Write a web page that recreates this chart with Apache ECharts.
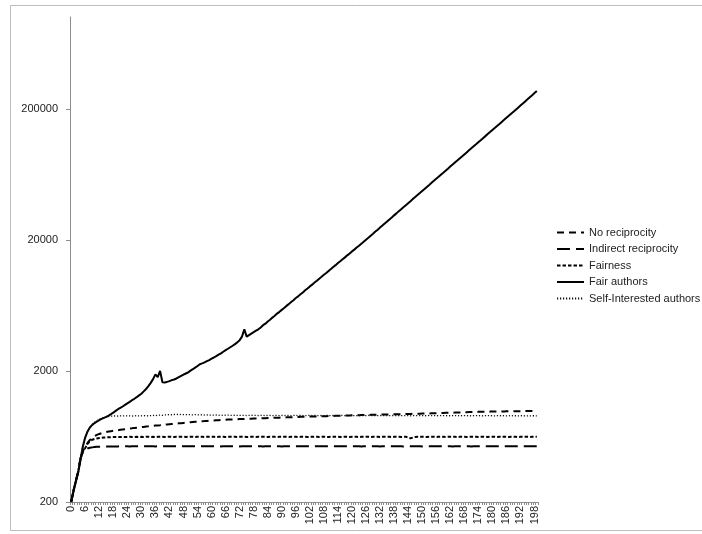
<!DOCTYPE html>
<html>
<head>
<meta charset="utf-8">
<script src="https://cdn.jsdelivr.net/npm/echarts@6/dist/echarts.min.js"></script>
<style>
  html, body { margin: 0; padding: 0; background: #fff; }
  #chart { width: 702px; height: 534px; }
</style>
</head>
<body>
<div id="chart"></div>
<script>
// x categories 0..199, labels every 6th
const categories = Array.from({ length: 200 }, (_, i) => String(i));
const yTicks = [200, 2000, 20000, 200000];

const noReciprocity = [
  200,245,290,340,430,490,525,565,595,618,636,650,661,670,677,683,689,694,698,702,
  706,710,714,718,722,726,730,735,738,741,745,748,752,755,759,762,765,768,771,775,
  778,781,784,787,790,793,796,799,802,805,808,811,814,817,820,823,826,828,831,834,
  836,838,840,842,844,846,848,850,852,853,855,856,858,859,860,862,863,864,866,867,
  868,870,871,872,874,875,876,878,879,880,882,883,884,885,887,888,889,890,892,893,
  894,895,896,897,898,899,900,901,902,903,905,906,907,908,909,910,911,912,913,914,
  916,917,918,919,920,921,922,923,924,925,926,927,928,929,929,930,931,932,933,934,
  935,936,937,938,939,940,941,942,943,944,945,946,947,948,949,950,951,952,954,955,
  957,958,959,960,962,963,964,966,967,968,970,971,972,973,974,975,976,977,977,978,
  978,979,980,981,981,982,983,984,984,985,985,986,986,987,987,988,988,989,989,990
];

const indirectReciprocity = [
  200,245,290,340,430,480,500,512,518,522,525,527,528,529,530,530,531,531,530,531,
  531,532,531,532,532,531,532,533,532,532,531,532,532,533,532,532,531,532,533,532,
  532,533,532,532,533,532,531,532,533,532,532,533,532,532,531,532,533,532,532,533,
  532,532,533,532,531,532,533,532,532,533,532,532,531,532,533,532,532,533,532,532,
  533,532,531,532,533,532,532,533,532,532,531,532,533,532,532,533,532,532,533,532,
  532,533,532,531,532,533,532,532,533,532,532,531,532,533,532,532,533,532,532,533,
  532,532,533,532,531,532,533,532,532,533,532,532,531,532,533,532,532,533,532,532,
  533,532,531,532,533,532,532,533,532,532,531,532,533,532,532,533,532,532,533,532,
  532,533,532,531,532,533,532,532,533,532,532,531,532,533,532,532,533,532,532,533,
  532,532,533,532,531,532,533,532,532,533,532,532,531,532,533,532,532,533,532,532
];

const fairness = [
  200,245,290,340,430,485,515,555,583,597,605,611,615,618,620,622,623,624,625,625,
  626,625,627,626,627,628,627,626,628,627,628,627,628,629,627,628,627,628,629,628,
  627,628,629,628,627,628,629,628,628,627,628,629,628,627,628,629,628,627,628,628,
  629,628,627,628,629,628,627,628,629,628,628,627,628,629,628,627,628,629,628,627,
  628,628,629,628,627,628,629,628,627,628,629,628,628,627,628,629,628,627,628,629,
  628,627,628,628,629,628,627,628,629,628,627,628,629,628,628,627,628,629,628,627,
  628,629,628,627,628,628,629,628,627,628,629,628,627,628,629,628,628,627,628,629,
  628,627,628,629,620,613,620,627,628,629,628,628,627,628,629,628,627,628,629,628,
  627,628,628,629,628,627,628,629,628,627,628,629,628,628,627,628,629,628,627,628,
  629,628,627,628,628,629,628,627,628,629,628,627,628,629,628,628,627,628,629,628
];

const fairAuthors = [
  200,240,285,335,420,530,620,690,740,775,800,822,842,860,876,892,912,935,960,990,
  1020,1045,1070,1100,1130,1160,1195,1225,1260,1300,1340,1395,1455,1530,1620,1730,1880,1790,2000,1640,
  1630,1650,1670,1700,1720,1750,1790,1830,1870,1910,1950,2010,2060,2120,2180,2250,2280,2320,2370,2420,
  2480,2530,2590,2660,2720,2800,2880,2950,3030,3110,3200,3300,3430,3650,4150,3650,3750,3850,3950,4050,
  4150,4290,4460,4580,4760,4910,5100,5260,5470,5640,5840,6030,6260,6460,6710,6920,7190,7400,7680,7930,
  8230,8500,8820,9090,9430,9740,10100,10440,10820,11160,11570,11960,12400,12810,13280,13730,14200,14680,15210,15730,
  16300,16820,17430,18020,18670,19310,20010,20720,21490,22250,23080,23890,24780,25660,26620,27560,28590,29600,30700,31790,
  32970,34150,35410,36680,38030,39390,40840,42310,43860,45440,47110,48800,50590,52410,54340,56290,58360,60460,62670,64930,
  67310,69730,72290,74890,77640,80440,83380,86390,89550,92780,96170,99650,103290,107020,110930,114940,119130,123440,127950,132580,
  137410,142390,147580,152920,158500,164240,170230,176390,182820,189440,196350,203590,211110,218890,227110,235490,244210,253190,262710,272390
];

const selfInterested = [
  200,248,296,352,440,550,625,690,740,780,810,835,855,870,882,892,898,902,905,907,
  905,908,906,910,907,909,905,908,911,907,909,912,908,910,913,915,912,918,920,916,
  922,925,928,926,930,932,928,931,929,927,930,926,924,928,925,922,926,920,923,919,
  921,918,922,917,920,916,919,921,917,915,918,916,914,917,915,913,916,918,914,916,
  913,917,915,912,916,914,911,915,917,913,915,912,916,914,911,914,916,912,915,913,
  911,914,916,912,915,913,910,914,912,915,913,911,914,912,910,913,915,911,914,912,
  910,913,911,914,912,910,913,915,911,913,910,912,914,911,913,910,912,914,911,913,
  910,912,914,911,913,909,912,914,910,913,911,909,912,914,910,912,909,911,913,910,
  912,909,911,913,910,912,908,911,913,909,911,908,910,912,909,911,908,910,912,909,
  911,908,910,912,909,910,907,909,911,908,910,907,909,911,908,909,907,909,910,908
];

const seriesNames = ['No reciprocity', 'Indirect reciprocity', 'Fairness', 'Fair authors', 'Self-Interested authors'];

const chart = echarts.init(document.getElementById('chart'));

const mkLine = (name, data, width, type, color) => ({
  name,
  type: 'line',
  data,
  symbol: 'none',
  smooth: false,
  lineStyle: { color, width, type },
  itemStyle: { color },
});

// snap a log tick value to the nearest wanted label
const tickLabel = v => {
  const hit = yTicks.find(t => Math.abs(Math.log10(t) - Math.log10(v)) < 0.05);
  return hit ? String(hit) : String(Math.round(v));
};

chart.setOption({
  animation: false,
  textStyle: { fontFamily: 'Liberation Sans, Arial, sans-serif' },
  graphic: [{
    type: 'rect',
    shape: { x: 10.5, y: 5.5, width: 700, height: 525 },
    style: { fill: 'none', stroke: '#bdbdbd', lineWidth: 1 },
    silent: true,
  }],
  legend: {
    orient: 'vertical',
    left: 551,
    top: 222,
    itemWidth: 27,
    itemHeight: 12,
    itemGap: 5.5,
    data: seriesNames,
    itemStyle: { opacity: 0 },
    textStyle: { fontSize: 11, color: '#222', fontFamily: 'Liberation Sans, Arial, sans-serif' },
  },
  grid: { left: 70, right: 164, top: 17, bottom: 32, containLabel: false },
  xAxis: {
    type: 'category',
    data: categories,
    boundaryGap: true,
    axisLine: { lineStyle: { color: '#8c8c8c', width: 1 } },
    axisTick: { show: true, interval: 0, length: 3, lineStyle: { color: '#8c8c8c' } },
    axisLabel: { interval: 5, rotate: 90, fontSize: 11, color: '#222', margin: 4 },
    splitLine: { show: false },
  },
  yAxis: {
    type: 'log',
    logBase: 10,
    min: 200,
    max: 1000000,
    interval: 1,
    axisLine: { show: true, lineStyle: { color: '#8c8c8c', width: 1 } },
    axisTick: { show: true, length: 4, lineStyle: { color: '#8c8c8c' } },
    axisLabel: {
      fontSize: 11,
      color: '#222',
      margin: 12,
      showMaxLabel: false,
      formatter: tickLabel,
    },
    splitLine: { show: false },
    minorTick: { show: false },
  },
  series: [
    mkLine(seriesNames[0], noReciprocity, 2, [7, 5], '#000'),
    mkLine(seriesNames[1], indirectReciprocity, 2, [13, 6], '#000'),
    mkLine(seriesNames[2], fairness, 2, [3.5, 2], '#000'),
    mkLine(seriesNames[3], fairAuthors, 2, 'solid', '#000'),
    mkLine(seriesNames[4], selfInterested, 1.3, [1.2, 1.8], '#111'),
  ],
});
</script>
</body>
</html>
